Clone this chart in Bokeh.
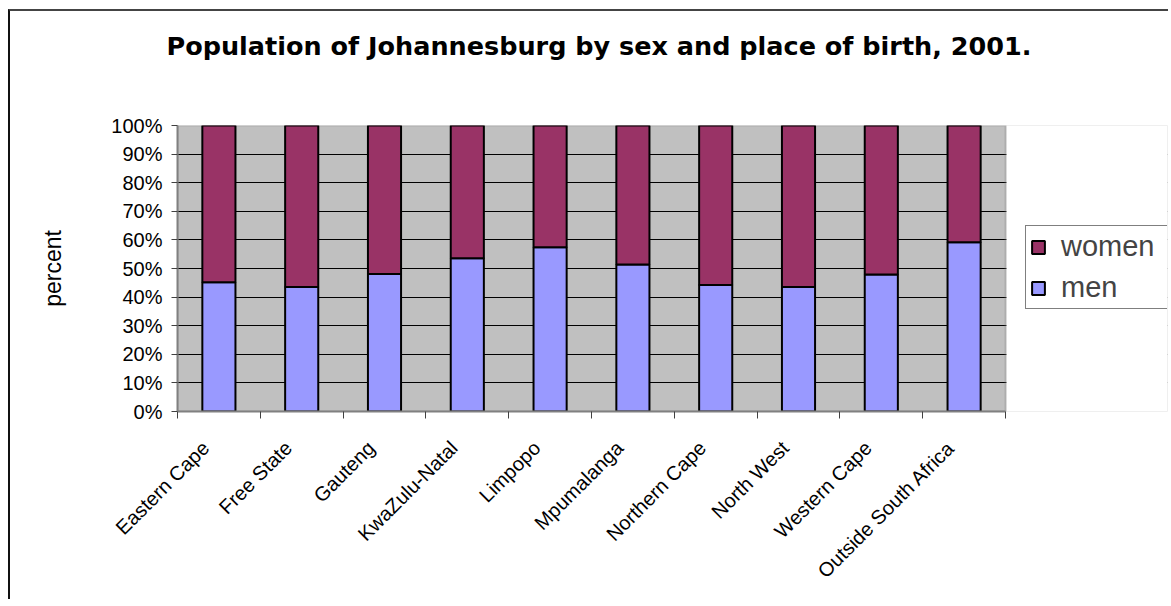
import math
from bokeh.plotting import figure
from bokeh.models import FixedTicker, Legend, LegendItem, ColumnDataSource, BoxAnnotation, Title
from bokeh.embed import file_html
from bokeh.resources import INLINE

categories = ["Eastern Cape", "Free State", "Gauteng", "KwaZulu-Natal", "Limpopo",
              "Mpumalanga", "Northern Cape", "North West", "Western Cape", "Outside South Africa"]
men = [45.2, 43.5, 48.1, 53.6, 57.4, 51.4, 44.2, 43.5, 47.9, 59.2]
women = [round(100 - m, 1) for m in men]
y_ticks = [0, 10, 20, 30, 40, 50, 60, 70, 80, 90, 100]
y_labels = [f"{t}%" for t in y_ticks]

FONT = "Liberation Sans"

n = len(categories)
xpos = [i + 0.5 for i in range(n)]
label_pos = [i + 0.34 for i in range(n)]
src = ColumnDataSource(dict(x=xpos, men=men, women=women))

# plot area of 828 px for the 10 categories; frame extended to the right to host the legend
frame_w = 990
x_end = n * frame_w / 828.0

p = figure(width=1160, height=590, x_range=(0, x_end), y_range=(0, 100),
           output_backend="svg", toolbar_location=None,
           min_border_left=167, min_border_right=3, min_border_top=114, min_border_bottom=190,
           margin=(9, 0, 0, 8))
p.title.text = "Population of Johannesburg by sex and place of birth, 2001."
p.title.text_font = "DejaVu Sans"
p.title.text_font_size = "25.5px"
p.title.text_font_style = "bold"
p.title.text_color = "black"
p.title.align = "left"
p.title.offset = -11
p.title.standoff = 35

spacer = Title(text=" ", text_font_size="2px", standoff=43)
p.add_layout(spacer, "above")

p.background_fill_color = "#C0C0C0"
p.outline_line_color = None
p.xgrid.grid_line_color = None
p.ygrid.grid_line_color = "black"
p.ygrid.grid_line_width = 1
p.ygrid.ticker = FixedTicker(ticks=y_ticks)

plot_box = BoxAnnotation(left=0, right=n, bottom=0, top=100, fill_alpha=0,
                         line_color="#808080", line_width=2, level="underlay")
p.add_layout(plot_box)

r = p.vbar_stack(["men", "women"], x="x", width=0.4, source=src,
                 color=["#9999FF", "#993366"], line_color="black", line_width=2)

cover = BoxAnnotation(left=n + 0.012, right=x_end + 1, bottom=-10, top=110,
                      fill_color="white", fill_alpha=1, line_alpha=0)
p.add_layout(cover)

# axes
p.yaxis.ticker = FixedTicker(ticks=y_ticks)
p.yaxis.major_label_overrides = {t: l for t, l in zip(y_ticks, y_labels)}
p.yaxis.major_label_text_font = FONT
p.yaxis.major_label_text_font_size = "20px"
p.yaxis.major_label_text_color = "black"
p.yaxis.major_tick_in = 0
p.yaxis.major_tick_out = 6
p.yaxis.major_tick_line_color = "#404040"
p.yaxis.minor_tick_line_color = None
p.yaxis.axis_line_color = "#808080"
p.yaxis.axis_line_width = 2
p.yaxis.major_label_standoff = 9
p.yaxis.axis_label = "percent"
p.yaxis.axis_label_text_font = FONT
p.yaxis.axis_label_text_font_size = "23px"
p.yaxis.axis_label_text_font_style = "normal"
p.yaxis.axis_label_text_color = "black"
p.yaxis.axis_label_standoff = 42

p.xaxis.bounds = (0, n)
p.xaxis.ticker = FixedTicker(ticks=label_pos, minor_ticks=list(range(n + 1)))
p.xaxis.major_label_overrides = {x: c for x, c in zip(label_pos, categories)}
p.xaxis.major_label_orientation = math.pi / 4
p.xaxis.major_label_text_font = FONT
p.xaxis.major_label_text_font_size = "20px"
p.xaxis.major_label_text_color = "black"
p.xaxis.major_tick_line_color = None
p.xaxis.minor_tick_in = 0
p.xaxis.minor_tick_out = 7
p.xaxis.minor_tick_line_color = "#404040"
p.xaxis.axis_line_color = "#808080"
p.xaxis.axis_line_width = 2
p.xaxis.major_label_standoff = 26

legend = Legend(items=[LegendItem(label="women", renderers=[r[1]]),
                       LegendItem(label="men", renderers=[r[0]])],
                location=(848, 102), label_text_font=FONT, label_text_font_size="29px",
                glyph_width=16, glyph_height=16, spacing=8, padding=4,
                border_line_color="black", border_line_width=1,
                background_fill_color="white", background_fill_alpha=1,
                margin=0, label_standoff=15, label_width=102)
p.add_layout(legend, "center")

p.styles = {"border-left": "2px solid #111", "border-top": "2px solid #444"}

open("out.html", "w").write(file_html(p, INLINE))
